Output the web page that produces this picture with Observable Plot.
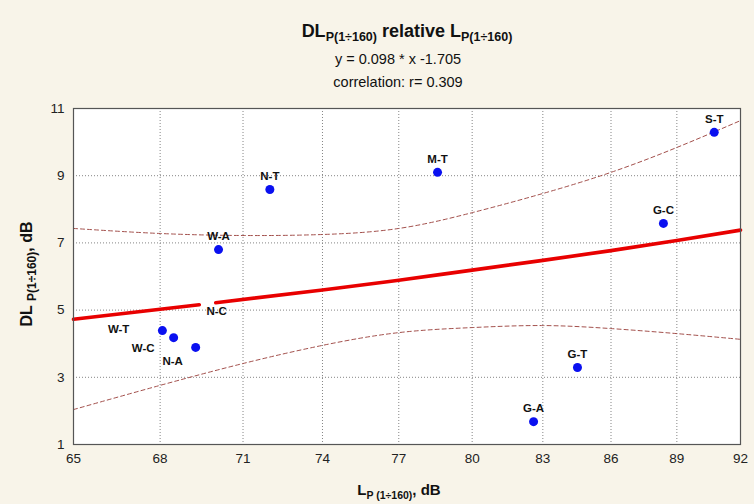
<!DOCTYPE html>
<html>
<head>
<meta charset="utf-8">
<script src="https://cdn.jsdelivr.net/npm/d3@7"></script>
<script src="https://cdn.jsdelivr.net/npm/@observablehq/plot@0.6"></script>
<style>
  html, body { margin: 0; padding: 0; background: #f8f4e9; }
  #wrap { position: relative; width: 754px; height: 504px; background: #f8f4e9; font-family: "Liberation Sans", Arial, sans-serif; color: #111; overflow: hidden; }
  #chart { position: absolute; left: 0; top: 0; }
  .t { position: absolute; left: 0; width: 754px; text-align: center; white-space: nowrap; }
  #t1 { top: 21px; font-size: 18px; font-weight: bold; left: 30px; }
  #t1 sub { font-size: 12.5px; vertical-align: -4px; line-height: 0; }
  #t2 { top: 51px; font-size: 14.5px; left: 21px; }
  #t3 { top: 74px; font-size: 14.5px; left: 21px; }
  #xl { top: 481px; font-size: 15px; font-weight: bold; left: 22px; }
  #xl sub { font-size: 10.5px; font-weight: bold; vertical-align: -4px; line-height: 0; }
  #yl sub { font-size: 12px; font-weight: bold; vertical-align: -4px; line-height: 0; }
  #yl { position: absolute; left: 27px; top: 274px; transform: translate(-50%, -50%) rotate(-90deg); font-size: 16px; font-weight: bold; white-space: nowrap; }
</style>
</head>
<body>
<div id="wrap">
  <div id="chart"></div>
  <div class="t" id="t1">DL<sub>P(1÷160)</sub> relative L<sub>P(1÷160)</sub></div>
  <div class="t" id="t2">y = 0.098 * x -1.705</div>
  <div class="t" id="t3">correlation: r= 0.309</div>
  <div class="t" id="xl">L<sub>P (1÷160)</sub>, dB</div>
  <div id="yl">DL <sub>P(1÷160)</sub>, dB</div>
</div>
<script>
// Observations
const names = ["S-T", "M-T", "G-C", "G-T", "G-A", "W-A", "N-T", "W-T", "W-C", "N-A"];
const xValues = [90.75, 78.57, 88.38, 84.51, 82.6, 70.1, 72.0, 68.08, 68.48, 69.27];
const yValues = [10.29, 9.10, 7.58, 3.29, 1.68, 6.80, 8.59, 4.39, 4.18, 3.89];

// Label drawn without a visible point (covered in the original)
const hiddenName = ["N-C"];
const hiddenX = [70.03];
const hiddenY = [4.96];

// Axis ticks
const xTicks = [65, 68, 71, 74, 77, 80, 83, 86, 89, 92];
const yTicks = [1, 3, 5, 7, 9, 11];

// Regression line (two visible pieces)
const fitSeg = ["a", "a", "b", "b", "b", "b", "b", "b", "b", "b"];
const fitX = [65, 69.4, 70.0, 74, 77, 80, 83, 86, 89, 92];
const fitY = [4.73, 5.16, 5.22, 5.60, 5.89, 6.19, 6.48, 6.77, 7.07, 7.38];

// Confidence band (dashed)
const bandX = [65, 68, 71, 74, 77, 80, 83, 86, 89, 92];
const bandUpper = [7.43, 7.28, 7.22, 7.25, 7.43, 7.90, 8.47, 9.10, 9.84, 10.64];
const bandLower = [2.04, 2.76, 3.41, 3.95, 4.33, 4.48, 4.54, 4.45, 4.30, 4.13];

const pts = names.map((n, i) => ({name: n, x: xValues[i], y: yValues[i]}));
const hidden = hiddenName.map((n, i) => ({name: n, x: hiddenX[i], y: hiddenY[i]}));
const fit = fitX.map((x, i) => ({seg: fitSeg[i], x, y: fitY[i]}));
const upper = bandX.map((x, i) => ({x, y: bandUpper[i]}));
const lower = bandX.map((x, i) => ({x, y: bandLower[i]}));

const above = ["S-T", "M-T", "G-C", "G-T", "G-A", "W-A", "N-T"];
const font = "Liberation Sans, Arial, sans-serif";
const labelFont = {fontSize: 11.5, fontWeight: "bold", fill: "#111", fontFamily: font};

const chart = Plot.plot({
  width: 754,
  height: 504,
  marginLeft: 73,
  marginRight: 14,
  marginTop: 108,
  marginBottom: 60,
  style: {background: "transparent", fontFamily: font, fontSize: "13px", color: "#222"},
  x: {type: "log", domain: [65, 92], axis: null},
  y: {domain: [1, 11], axis: null},
  marks: [
    Plot.frame({fill: "white", stroke: null}),
    Plot.gridX(xTicks, {stroke: "#858585", strokeOpacity: 1, strokeDasharray: "1,2"}),
    Plot.gridY(yTicks, {stroke: "#858585", strokeOpacity: 1, strokeDasharray: "1,2"}),
    Plot.text(xTicks, {x: d => d, frameAnchor: "bottom", dy: 18, text: d => String(d), fontSize: 13.5, fill: "#222", fontFamily: font}),
    Plot.axisY(yTicks, {tickSize: 0, tickPadding: 9, tickFormat: d => String(d), label: null, fontSize: 13.5}),
    Plot.line(upper, {x: "x", y: "y", curve: "natural", stroke: "#a3504c", strokeWidth: 1, strokeDasharray: "4,3"}),
    Plot.line(lower, {x: "x", y: "y", curve: "natural", stroke: "#a3504c", strokeWidth: 1, strokeDasharray: "4,3"}),
    Plot.line(fit, {x: "x", y: "y", z: "seg", curve: "natural", stroke: "#e80000", strokeWidth: 3.6}),
    Plot.dot(pts, {x: "x", y: "y", r: 4.5, fill: "#0a10f0", stroke: null}),
    Plot.text(pts.filter(d => above.includes(d.name)), {x: "x", y: "y", text: "name", dy: -13, ...labelFont}),
    Plot.text(pts.filter(d => d.name === "W-T"), {x: "x", y: "y", text: "name", textAnchor: "end", dx: -33, dy: -1, ...labelFont}),
    Plot.text(pts.filter(d => d.name === "W-C"), {x: "x", y: "y", text: "name", textAnchor: "end", dx: -19, dy: 11, ...labelFont}),
    Plot.text(pts.filter(d => d.name === "N-A"), {x: "x", y: "y", text: "name", dx: -23, dy: 14, ...labelFont}),
    Plot.text(hidden, {x: "x", y: "y", text: "name", ...labelFont}),
    Plot.frame({stroke: "#555", strokeWidth: 1.2})
  ]
});
document.getElementById("chart").appendChild(chart);
</script>
</body>
</html>
